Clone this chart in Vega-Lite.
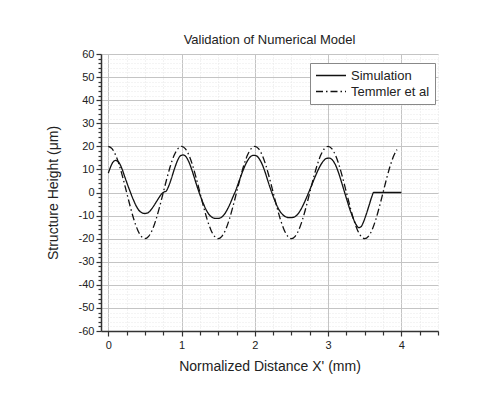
{
  "$schema": "https://vega.github.io/schema/vega-lite/v6.json",
  "autosize": "none",
  "width": 337,
  "height": 277,
  "padding": {"left": 101, "top": 54, "right": 60, "bottom": 62},
  "background": "white",
  "config": {
    "font": "Liberation Sans",
    "view": {"stroke": null},
    "title": {"fontSize": 13, "fontWeight": "normal", "color": "#222", "offset": 1, "anchor": "middle"}
  },
  "title": "Validation of Numerical Model",
  "datasets": {
    "curves": [
      {"series": "Simulation", "x": 0.00, "y": 8.4},
      {"series": "Simulation", "x": 0.03, "y": 11.0},
      {"series": "Simulation", "x": 0.06, "y": 13.0},
      {"series": "Simulation", "x": 0.10, "y": 13.9},
      {"series": "Simulation", "x": 0.14, "y": 13.2},
      {"series": "Simulation", "x": 0.18, "y": 10.8},
      {"series": "Simulation", "x": 0.22, "y": 7.2},
      {"series": "Simulation", "x": 0.26, "y": 3.6},
      {"series": "Simulation", "x": 0.30, "y": 0.2},
      {"series": "Simulation", "x": 0.34, "y": -3.0},
      {"series": "Simulation", "x": 0.38, "y": -5.8},
      {"series": "Simulation", "x": 0.42, "y": -7.8},
      {"series": "Simulation", "x": 0.46, "y": -8.8},
      {"series": "Simulation", "x": 0.50, "y": -9.1},
      {"series": "Simulation", "x": 0.54, "y": -8.8},
      {"series": "Simulation", "x": 0.58, "y": -7.6},
      {"series": "Simulation", "x": 0.62, "y": -5.8},
      {"series": "Simulation", "x": 0.66, "y": -3.8},
      {"series": "Simulation", "x": 0.70, "y": -1.8},
      {"series": "Simulation", "x": 0.73, "y": -0.5},
      {"series": "Simulation", "x": 0.76, "y": 0.2},
      {"series": "Simulation", "x": 0.79, "y": 0.6},
      {"series": "Simulation", "x": 0.82, "y": 2.5},
      {"series": "Simulation", "x": 0.86, "y": 6.0},
      {"series": "Simulation", "x": 0.90, "y": 10.0},
      {"series": "Simulation", "x": 0.94, "y": 13.5},
      {"series": "Simulation", "x": 0.98, "y": 15.8},
      {"series": "Simulation", "x": 1.02, "y": 16.3},
      {"series": "Simulation", "x": 1.06, "y": 15.5},
      {"series": "Simulation", "x": 1.10, "y": 13.2},
      {"series": "Simulation", "x": 1.14, "y": 9.8},
      {"series": "Simulation", "x": 1.18, "y": 5.8},
      {"series": "Simulation", "x": 1.22, "y": 1.8},
      {"series": "Simulation", "x": 1.26, "y": -1.8},
      {"series": "Simulation", "x": 1.30, "y": -5.0},
      {"series": "Simulation", "x": 1.34, "y": -7.8},
      {"series": "Simulation", "x": 1.38, "y": -9.7},
      {"series": "Simulation", "x": 1.42, "y": -10.8},
      {"series": "Simulation", "x": 1.46, "y": -11.2},
      {"series": "Simulation", "x": 1.50, "y": -11.2},
      {"series": "Simulation", "x": 1.54, "y": -10.8},
      {"series": "Simulation", "x": 1.58, "y": -9.6},
      {"series": "Simulation", "x": 1.62, "y": -7.6},
      {"series": "Simulation", "x": 1.66, "y": -5.0},
      {"series": "Simulation", "x": 1.70, "y": -2.0},
      {"series": "Simulation", "x": 1.74, "y": 1.0},
      {"series": "Simulation", "x": 1.78, "y": 4.5},
      {"series": "Simulation", "x": 1.82, "y": 8.0},
      {"series": "Simulation", "x": 1.86, "y": 11.2},
      {"series": "Simulation", "x": 1.90, "y": 13.8},
      {"series": "Simulation", "x": 1.94, "y": 15.5},
      {"series": "Simulation", "x": 1.98, "y": 16.1},
      {"series": "Simulation", "x": 2.02, "y": 15.9},
      {"series": "Simulation", "x": 2.06, "y": 14.6},
      {"series": "Simulation", "x": 2.10, "y": 12.2},
      {"series": "Simulation", "x": 2.14, "y": 8.8},
      {"series": "Simulation", "x": 2.18, "y": 4.8},
      {"series": "Simulation", "x": 2.22, "y": 1.0},
      {"series": "Simulation", "x": 2.26, "y": -2.5},
      {"series": "Simulation", "x": 2.30, "y": -5.6},
      {"series": "Simulation", "x": 2.34, "y": -8.0},
      {"series": "Simulation", "x": 2.38, "y": -9.6},
      {"series": "Simulation", "x": 2.42, "y": -10.5},
      {"series": "Simulation", "x": 2.46, "y": -10.9},
      {"series": "Simulation", "x": 2.50, "y": -10.9},
      {"series": "Simulation", "x": 2.54, "y": -10.6},
      {"series": "Simulation", "x": 2.58, "y": -9.6},
      {"series": "Simulation", "x": 2.62, "y": -7.8},
      {"series": "Simulation", "x": 2.66, "y": -5.4},
      {"series": "Simulation", "x": 2.70, "y": -2.6},
      {"series": "Simulation", "x": 2.74, "y": 0.4},
      {"series": "Simulation", "x": 2.78, "y": 3.5},
      {"series": "Simulation", "x": 2.82, "y": 6.6},
      {"series": "Simulation", "x": 2.86, "y": 9.5},
      {"series": "Simulation", "x": 2.90, "y": 12.0},
      {"series": "Simulation", "x": 2.94, "y": 13.8},
      {"series": "Simulation", "x": 2.98, "y": 14.8},
      {"series": "Simulation", "x": 3.02, "y": 14.9},
      {"series": "Simulation", "x": 3.06, "y": 14.0},
      {"series": "Simulation", "x": 3.10, "y": 12.0},
      {"series": "Simulation", "x": 3.14, "y": 8.8},
      {"series": "Simulation", "x": 3.18, "y": 4.8},
      {"series": "Simulation", "x": 3.22, "y": 0.6},
      {"series": "Simulation", "x": 3.26, "y": -3.6},
      {"series": "Simulation", "x": 3.30, "y": -7.6},
      {"series": "Simulation", "x": 3.34, "y": -11.0},
      {"series": "Simulation", "x": 3.38, "y": -13.8},
      {"series": "Simulation", "x": 3.42, "y": -15.2},
      {"series": "Simulation", "x": 3.45, "y": -14.8},
      {"series": "Simulation", "x": 3.48, "y": -13.0},
      {"series": "Simulation", "x": 3.52, "y": -9.5},
      {"series": "Simulation", "x": 3.56, "y": -5.5},
      {"series": "Simulation", "x": 3.60, "y": -1.5},
      {"series": "Simulation", "x": 3.62, "y": 0.0},
      {"series": "Simulation", "x": 4.00, "y": 0.0},
      {"series": "Temmler et al", "x": 0.00, "y": 20.0},
      {"series": "Temmler et al", "x": 0.05, "y": 19.0},
      {"series": "Temmler et al", "x": 0.10, "y": 16.2},
      {"series": "Temmler et al", "x": 0.15, "y": 11.8},
      {"series": "Temmler et al", "x": 0.20, "y": 6.2},
      {"series": "Temmler et al", "x": 0.25, "y": 0.0},
      {"series": "Temmler et al", "x": 0.30, "y": -6.2},
      {"series": "Temmler et al", "x": 0.35, "y": -11.8},
      {"series": "Temmler et al", "x": 0.40, "y": -16.2},
      {"series": "Temmler et al", "x": 0.45, "y": -19.0},
      {"series": "Temmler et al", "x": 0.50, "y": -20.0},
      {"series": "Temmler et al", "x": 0.55, "y": -19.0},
      {"series": "Temmler et al", "x": 0.60, "y": -16.2},
      {"series": "Temmler et al", "x": 0.65, "y": -11.8},
      {"series": "Temmler et al", "x": 0.70, "y": -6.2},
      {"series": "Temmler et al", "x": 0.75, "y": 0.0},
      {"series": "Temmler et al", "x": 0.80, "y": 6.2},
      {"series": "Temmler et al", "x": 0.85, "y": 11.8},
      {"series": "Temmler et al", "x": 0.90, "y": 16.2},
      {"series": "Temmler et al", "x": 0.95, "y": 19.0},
      {"series": "Temmler et al", "x": 1.00, "y": 20.0},
      {"series": "Temmler et al", "x": 1.05, "y": 19.0},
      {"series": "Temmler et al", "x": 1.10, "y": 16.2},
      {"series": "Temmler et al", "x": 1.15, "y": 11.8},
      {"series": "Temmler et al", "x": 1.20, "y": 6.2},
      {"series": "Temmler et al", "x": 1.25, "y": 0.0},
      {"series": "Temmler et al", "x": 1.30, "y": -6.2},
      {"series": "Temmler et al", "x": 1.35, "y": -11.8},
      {"series": "Temmler et al", "x": 1.40, "y": -16.2},
      {"series": "Temmler et al", "x": 1.45, "y": -19.0},
      {"series": "Temmler et al", "x": 1.50, "y": -20.0},
      {"series": "Temmler et al", "x": 1.55, "y": -19.0},
      {"series": "Temmler et al", "x": 1.60, "y": -16.2},
      {"series": "Temmler et al", "x": 1.65, "y": -11.8},
      {"series": "Temmler et al", "x": 1.70, "y": -6.2},
      {"series": "Temmler et al", "x": 1.75, "y": 0.0},
      {"series": "Temmler et al", "x": 1.80, "y": 6.2},
      {"series": "Temmler et al", "x": 1.85, "y": 11.8},
      {"series": "Temmler et al", "x": 1.90, "y": 16.2},
      {"series": "Temmler et al", "x": 1.95, "y": 19.0},
      {"series": "Temmler et al", "x": 2.00, "y": 20.0},
      {"series": "Temmler et al", "x": 2.05, "y": 19.0},
      {"series": "Temmler et al", "x": 2.10, "y": 16.2},
      {"series": "Temmler et al", "x": 2.15, "y": 11.8},
      {"series": "Temmler et al", "x": 2.20, "y": 6.2},
      {"series": "Temmler et al", "x": 2.25, "y": 0.0},
      {"series": "Temmler et al", "x": 2.30, "y": -6.2},
      {"series": "Temmler et al", "x": 2.35, "y": -11.8},
      {"series": "Temmler et al", "x": 2.40, "y": -16.2},
      {"series": "Temmler et al", "x": 2.45, "y": -19.0},
      {"series": "Temmler et al", "x": 2.50, "y": -20.0},
      {"series": "Temmler et al", "x": 2.55, "y": -19.0},
      {"series": "Temmler et al", "x": 2.60, "y": -16.2},
      {"series": "Temmler et al", "x": 2.65, "y": -11.8},
      {"series": "Temmler et al", "x": 2.70, "y": -6.2},
      {"series": "Temmler et al", "x": 2.75, "y": 0.0},
      {"series": "Temmler et al", "x": 2.80, "y": 6.2},
      {"series": "Temmler et al", "x": 2.85, "y": 11.8},
      {"series": "Temmler et al", "x": 2.90, "y": 16.2},
      {"series": "Temmler et al", "x": 2.95, "y": 19.0},
      {"series": "Temmler et al", "x": 3.00, "y": 20.0},
      {"series": "Temmler et al", "x": 3.05, "y": 19.0},
      {"series": "Temmler et al", "x": 3.10, "y": 16.2},
      {"series": "Temmler et al", "x": 3.15, "y": 11.8},
      {"series": "Temmler et al", "x": 3.20, "y": 6.2},
      {"series": "Temmler et al", "x": 3.25, "y": 0.0},
      {"series": "Temmler et al", "x": 3.30, "y": -6.2},
      {"series": "Temmler et al", "x": 3.35, "y": -11.8},
      {"series": "Temmler et al", "x": 3.40, "y": -16.2},
      {"series": "Temmler et al", "x": 3.45, "y": -19.0},
      {"series": "Temmler et al", "x": 3.50, "y": -20.0},
      {"series": "Temmler et al", "x": 3.55, "y": -19.0},
      {"series": "Temmler et al", "x": 3.60, "y": -16.2},
      {"series": "Temmler et al", "x": 3.65, "y": -11.8},
      {"series": "Temmler et al", "x": 3.70, "y": -6.2},
      {"series": "Temmler et al", "x": 3.75, "y": 0.0},
      {"series": "Temmler et al", "x": 3.80, "y": 6.2},
      {"series": "Temmler et al", "x": 3.85, "y": 11.8},
      {"series": "Temmler et al", "x": 3.90, "y": 16.2},
      {"series": "Temmler et al", "x": 3.94, "y": 18.6}
    ]
  },
  "data": {"name": "curves"},
  "mark": {"type": "line", "color": "#111", "strokeWidth": 1.3, "interpolate": "monotone"},
  "encoding": {
    "x": {
      "field": "x", "type": "quantitative",
      "scale": {"domain": [-0.1, 4.5], "nice": false, "zero": false},
      "axis": {
        "title": "Normalized Distance X' (mm)",
        "titleFontSize": 14, "titleFontWeight": "normal", "titleColor": "#222", "titlePadding": 9,
        "values": [0, 0.25, 0.5, 0.75, 1, 1.25, 1.5, 1.75, 2, 2.25, 2.5, 2.75, 3, 3.25, 3.5, 3.75, 4, 4.25, 4.5],
        "labelExpr": "datum.value % 1 === 0 ? '' + datum.value : ''",
        "labelFontSize": 11, "labelColor": "#222", "labelFlush": false, "labelOverlap": false, "labelPadding": 3,
        "domainColor": "#333", "domainWidth": 1.5,
        "tickColor": "#333", "tickWidth": 1.2,
        "tickSize": {"expr": "datum.value % 1 === 0 ? 5 : 4"},
        "grid": true,
        "gridColor": {"condition": {"test": "datum.value % 1 === 0", "value": "#c4c4c4"}, "value": "#e4e4e4"},
        "gridDash": {"condition": {"test": "datum.value % 1 === 0", "value": []}, "value": [1, 2]},
        "gridWidth": 1
      }
    },
    "y": {
      "field": "y", "type": "quantitative",
      "scale": {"domain": [-60, 60], "nice": false},
      "axis": {
        "title": "Structure Height (μm)",
        "titleFontSize": 14, "titleFontWeight": "normal", "titleColor": "#222", "titlePadding": 18,
        "values": [-60,-58,-56,-54,-52,-50,-48,-46,-44,-42,-40,-38,-36,-34,-32,-30,-28,-26,-24,-22,-20,-18,-16,-14,-12,-10,-8,-6,-4,-2,0,2,4,6,8,10,12,14,16,18,20,22,24,26,28,30,32,34,36,38,40,42,44,46,48,50,52,54,56,58,60],
        "labelExpr": "datum.value % 10 === 0 ? '' + datum.value : ''",
        "labelFontSize": 11, "labelColor": "#222", "labelFlush": false, "labelOverlap": false, "labelPadding": 2,
        "domainColor": "#333", "domainWidth": 1.5,
        "tickColor": "#333", "tickWidth": 1.2,
        "tickSize": {"expr": "datum.value % 10 === 0 ? 5 : 3"},
        "grid": true,
        "gridColor": {"condition": {"test": "datum.value % 10 === 0", "value": "#c4c4c4"}, "value": "#e8e8e8"},
        "gridDash": {"condition": {"test": "datum.value % 10 === 0", "value": []}, "value": [1, 2]},
        "gridWidth": 1
      }
    },
    "strokeDash": {
      "field": "series", "type": "nominal",
      "scale": {"domain": ["Simulation", "Temmler et al"], "range": [[1, 0], [7, 3, 1.5, 3]]},
      "legend": {
        "title": null, "orient": "none", "legendX": 209, "legendY": 9,
        "symbolType": "stroke", "symbolSize": 900, "symbolStrokeWidth": 1.3, "symbolStrokeColor": "#111",
        "clipHeight": 15, "rowPadding": 1,
        "labelFontSize": 13, "labelColor": "#222", "labelOffset": 4,
        "padding": 5, "strokeColor": "#888", "fillColor": "white"
      }
    }
  }
}
